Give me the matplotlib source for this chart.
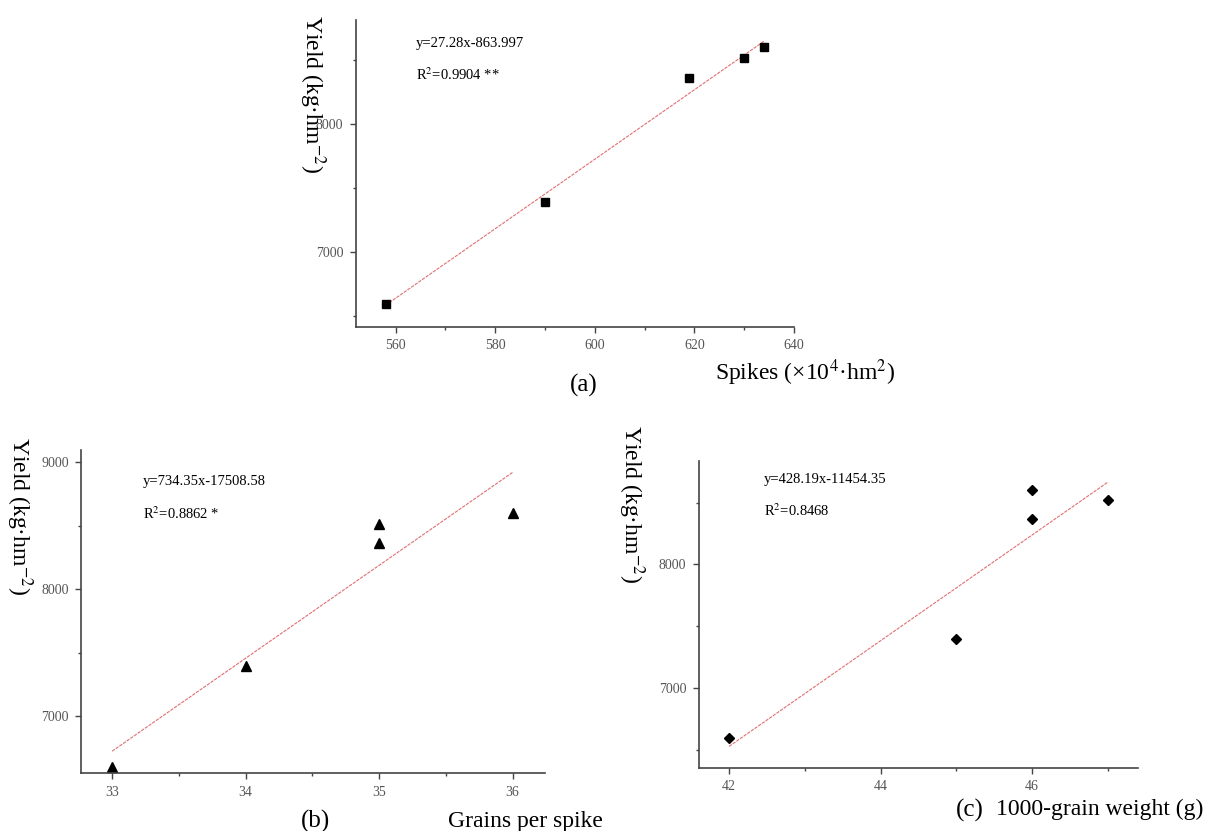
import numpy as np
import matplotlib
matplotlib.use('Agg')
import matplotlib.pyplot as plt
from matplotlib.ticker import MultipleLocator

plt.rcParams['font.family'] = ['Liberation Serif', 'DejaVu Serif']
plt.rcParams['mathtext.fontset'] = 'stix'

# data
yield_vals = [6595, 7395, 8365, 8517, 8603]
spikes = [558, 590, 619, 630, 634]
grains = [33, 34, 35, 35, 36]
grains_yield = [6595, 7395, 8517, 8365, 8603]
tgw = [42, 45, 46, 46, 47]
tgw_yield = [6595, 7395, 8603, 8365, 8517]

eq_a = ['y=27.28x-863.997', 'R$^2$=0.9904 **']
eq_b = ['y=734.35x-17508.58', 'R$^2$=0.8862 *']
eq_c = ['y=428.19x-11454.35', 'R$^2$=0.8468']
ylab = 'Yield (kg·hm$^{-2}$)'

W, H = 1206, 831
fig = plt.figure(figsize=(W/100, H/100), dpi=100)

def box(l, t, r, b):
    return [l/W, 1-b/H, (r-l)/W, (b-t)/H]

def ftext(x, y, s, **kw):
    fig.text(x/W, 1-y/H, s, **kw)

def style(ax):
    for s in ['top', 'right']:
        ax.spines[s].set_visible(False)
    for s in ['left', 'bottom']:
        ax.spines[s].set_color('#444444')
        ax.spines[s].set_linewidth(1.2)
    ax.tick_params(which='major', direction='out', length=4, width=1, colors='#444444',
                   labelsize=10, labelcolor='#555555', pad=5)
    ax.tick_params(which='minor', direction='out', length=2.5, width=1, colors='#444444')

def panel(rect, x, y, marker, ms, xlim, ylim, xmaj, xmin, ymaj, ymin):
    ax = fig.add_axes(rect)
    k, b = np.polyfit(x, y, 1)
    xs = np.array([min(x), max(x)])
    ax.plot(xs, k*xs + b, color='#e07070', lw=0.8, ls=(0, (3, 1)))
    ax.plot(x, y, ls='none', marker=marker, ms=ms, color='black')
    ax.set_xlim(*xlim)
    ax.set_ylim(*ylim)
    ax.xaxis.set_major_locator(MultipleLocator(xmaj))
    ax.xaxis.set_minor_locator(MultipleLocator(xmin))
    ax.yaxis.set_major_locator(MultipleLocator(ymaj))
    ax.yaxis.set_minor_locator(MultipleLocator(ymin))
    style(ax)
    return ax

# (a)
panel(box(355.7, 20, 794, 326.7), spikes, yield_vals, 's', 5.5,
      (552, 640), (6415, 8817), 20, 10, 1000, 500)
ftext(416, 43, eq_a[0], fontsize=10.5, va='center')
ftext(416, 75, eq_a[1], fontsize=10.5, va='center')
ftext(312, 15, ylab, fontsize=17, rotation=270, ha='center', va='top')
ftext(715, 373, 'Spikes (×10$^4$·hm$^2$)', fontsize=17, va='center')
ftext(584, 385, '(a)', fontsize=18, ha='center', va='center')

# (b)
panel(box(81.4, 450, 544.6, 773.3), grains, grains_yield, '^', 6.5,
      (32.77, 36.24), (6549, 9097), 1, 0.5, 1000, 500)
ftext(143, 482, eq_b[0], fontsize=10.5, va='center')
ftext(143, 514, eq_b[1], fontsize=10.5, va='center')
ftext(19, 437, ylab, fontsize=17, rotation=270, ha='center', va='top')
ftext(448, 821, 'Grains per spike', fontsize=17, va='center')
ftext(316, 821, '(b)', fontsize=18, ha='center', va='center')

# (c)
panel(box(698.8, 460.7, 1138, 767.7), tgw, tgw_yield, 'D', 5,
      (41.6, 47.4), (6356, 8838), 2, 1, 1000, 500)
ftext(764, 480, eq_c[0], fontsize=10.5, va='center')
ftext(764, 511, eq_c[1], fontsize=10.5, va='center')
ftext(631, 425, ylab, fontsize=17, rotation=270, ha='center', va='top')
ftext(1203, 809, '1000-grain weight (g)', fontsize=17, ha='right', va='center')
ftext(970, 810, '(c)', fontsize=18, ha='center', va='center')

fig.savefig('out.png', dpi=100)
